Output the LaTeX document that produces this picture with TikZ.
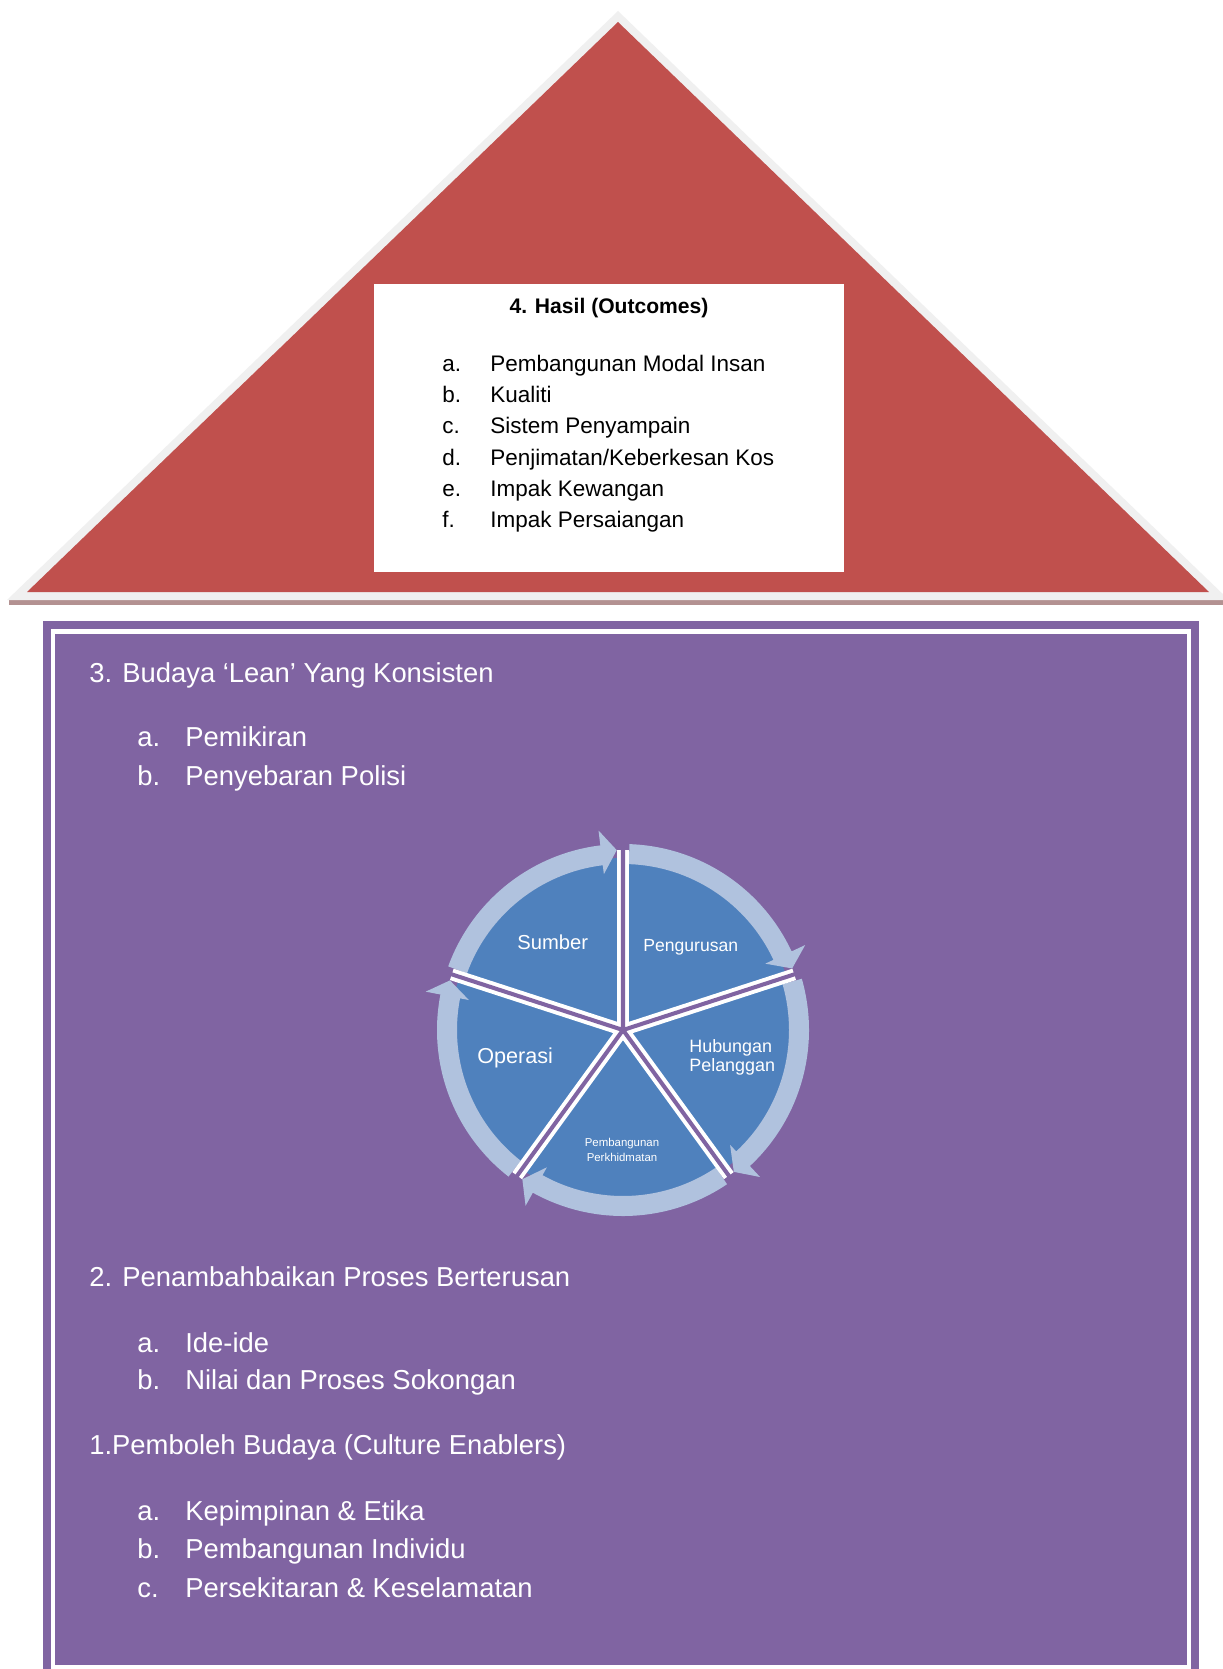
\documentclass[tikz,border=0pt]{standalone}
\usepackage{fontspec}
\setmainfont{Liberation Sans}

\definecolor{roofred}{HTML}{C0504D}
\definecolor{roofedge}{HTML}{F0F0F0}
\definecolor{roofshadow}{HTML}{B39191}
\definecolor{wallpurple}{HTML}{8064A2}
\definecolor{cycleblue}{HTML}{4F81BD}
\definecolor{ringblue}{HTML}{B0C2DE}

\tikzset{
  roofitem/.style={anchor=base west,inner sep=0pt,font=\fontsize{12.8}{15}\selectfont},
  wallitem/.style={anchor=base west,inner sep=0pt,text=white,font=\fontsize{15.6}{19}\selectfont},
  sector/.style={anchor=base west,inner sep=0pt,text=white}
}

\begin{document}
\begin{tikzpicture}[x=0.02cm,y=-0.02cm]

\fill[white] (0,0) rectangle (1223,1669);
\useasboundingbox (0,0) rectangle (1223,1669);

% roof
\fill[roofshadow] (9,600) rectangle (1223,605);
\fill[roofedge] (618,11) -- (1229,600) -- (7,600) -- cycle;
\fill[roofred] (618,22) -- (1209,592) -- (27,592) -- cycle;
\fill[white] (374,284) rectangle (844,572);

\node[anchor=base,inner sep=0pt,font=\bfseries\fontsize{12}{14}\selectfont] (hasil) at (609,314) {4. Hasil (Outcomes)};
\node[roofitem] (ha) at (442,371) {a.};
\node[roofitem] (hb) at (442,402) {b.};
\node[roofitem] (hc) at (442,433) {c.};
\node[roofitem] (hd) at (442,465) {d.};
\node[roofitem] (he) at (442,496) {e.};
\node[roofitem] (hf) at (442,527) {f.};
\node[roofitem] (hat) at (490,371) {Pembangunan Modal Insan};
\node[roofitem] (hbt) at (490,402) {Kualiti};
\node[roofitem] (hct) at (490,433) {Sistem Penyampain};
\node[roofitem] (hdt) at (490,465) {Penjimatan/Keberkesan Kos};
\node[roofitem] (het) at (490,496) {Impak Kewangan};
\node[roofitem] (hft) at (490,527) {Impak Persaiangan};

% wall
\fill[wallpurple] (43,621) rectangle (1199,1680);
\draw[white,line width=2.3pt] (53,631.5) rectangle (1189,1667);

\node[wallitem] (lean) at (89,682) {3. Budaya ‘Lean’ Yang Konsisten};
\node[wallitem] (la) at (137,746) {a.};
\node[wallitem] (lb) at (137,785) {b.};
\node[wallitem] (lat) at (185,746) {Pemikiran};
\node[wallitem] (lbt) at (185,785) {Penyebaran Polisi};

\node[wallitem] (proses) at (89,1286) {2. Penambahbaikan Proses Berterusan};
\node[wallitem] (pa) at (137,1352) {a.};
\node[wallitem] (pb) at (137,1389) {b.};
\node[wallitem] (pat) at (185,1352) {Ide-ide};
\node[wallitem] (pbt) at (185,1389) {Nilai dan Proses Sokongan};

\node[wallitem] (enabler) at (89,1454) {1.Pemboleh Budaya (Culture Enablers)};
\node[wallitem] (ea) at (137,1520) {a.};
\node[wallitem] (eb) at (137,1558) {b.};
\node[wallitem] (ec) at (137,1597) {c.};
\node[wallitem] (eat) at (185,1520) {Kepimpinan \& Etika};
\node[wallitem] (ebt) at (185,1558) {Pembangunan Individu};
\node[wallitem] (ect) at (185,1597) {Persekitaran \& Keselamatan};

% cycle
\begin{scope}[shift={(623,1030)},y=0.02cm]
% pie
\fill[cycleblue] (0,0) circle[radius=172];
% rim arrows
\fill[ringblue] (160:186) arc[start angle=160,end angle=97,radius=186] -- (97:201) -- (92:180) -- (97:157) -- (97:166) arc[start angle=97,end angle=160,radius=166] -- cycle;
\fill[ringblue] (88:186) arc[start angle=88,end angle=25,radius=186] -- (25:201) -- (20:180) -- (25:157) -- (25:166) arc[start angle=25,end angle=88,radius=166] -- cycle;
\fill[ringblue] (16:186) arc[start angle=16,end angle=-47,radius=186] -- (-47:201) -- (-52:180) -- (-47:157) -- (-47:166) arc[start angle=-47,end angle=16,radius=166] -- cycle;
\fill[ringblue] (-56:186) arc[start angle=-56,end angle=-119,radius=186] -- (-119:201) -- (-124:180) -- (-119:157) -- (-119:166) arc[start angle=-119,end angle=-56,radius=166] -- cycle;
\fill[ringblue] (232:186) arc[start angle=232,end angle=169,radius=186] -- (169:201) -- (164:180) -- (169:157) -- (169:166) arc[start angle=169,end angle=232,radius=166] -- cycle;
% gaps
\draw[white,line width=6.8pt] (0,0) -- (90:180) (0,0) -- (18:180) (0,0) -- (-54:180) (0,0) -- (-126:180) (0,0) -- (162:180);
\draw[wallpurple,line width=2.3pt] (0,0) -- (90:192) (0,0) -- (18:192) (0,0) -- (-54:192) (0,0) -- (-126:192) (0,0) -- (162:192);
\end{scope}

\node[sector,font=\fontsize{11.5}{13}\selectfont] (sumber) at (517,949) {Sumber};
\node[sector,font=\fontsize{10}{12}\selectfont] (urus) at (643,951) {Pengurusan};
\node[sector,font=\fontsize{10.2}{12}\selectfont] (hub) at (689,1052) {Hubungan};
\node[sector,font=\fontsize{10.2}{12}\selectfont] (pel) at (689,1071) {Pelanggan};
\node[sector,font=\fontsize{12.3}{14}\selectfont] (ops) at (477,1063) {Operasi};
\node[sector,anchor=base,font=\fontsize{6.5}{8}\selectfont] (bina) at (622,1146) {Pembangunan};
\node[sector,anchor=base,font=\fontsize{6.5}{8}\selectfont] (khidmat) at (622,1161) {Perkhidmatan};

\end{tikzpicture}
\end{document}
